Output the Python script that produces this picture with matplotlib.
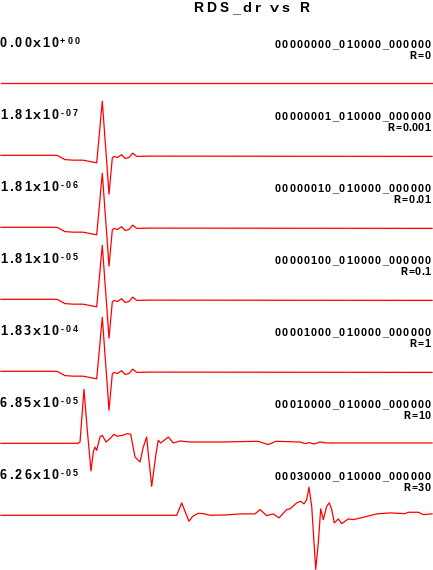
import matplotlib
matplotlib.use("Agg")
import matplotlib.pyplot as plt
from matplotlib.font_manager import FontProperties, findfont, get_font

W, H, DPI = 433, 570, 100

# ---------------- data ----------------
r_labels = ["R=0", "R=0.001", "R=0.01", "R=0.1", "R=1", "R=10", "R=30"]
run_ids = [
    "00000000_010000_000000",
    "00000001_010000_000000",
    "00000010_010000_000000",
    "00000100_010000_000000",
    "00001000_010000_000000",
    "00010000_010000_000000",
    "00030000_010000_000000",
]
peak_amp = [0.0, 1.81e-07, 1.81e-06, 1.81e-05, 1.83e-04, 6.85e-05, 6.26e-05]

# waveforms normalised by their peak |amplitude|, sample position 0..433
t_flat = [1, 432]
w_flat = [0.0, 0.0]

t_low_r = [1, 57, 65, 73, 83, 96.7, 102.3, 109.0, 112.3, 114, 117.3, 121.7, 125, 129,
           132.7, 136.7, 150, 432]
w_low_r = [0.0, 0.0, -0.08, -0.09, -0.09, -0.14, 1.0, -0.72, -0.05, -0.02, -0.04, 0.01,
           -0.06, -0.04, 0.04, -0.02, -0.015, -0.02]

t_r10 = [1, 78.3, 80, 84, 87.3, 91, 93.3, 95, 96.7, 100, 102.3, 106, 110, 114, 117.3,
         122.7, 127.3, 130.7, 135, 140, 143.3, 146.7, 148.3, 151.7, 156, 158.3, 160.7,
         168.3, 173.3, 180, 190, 220, 258, 268.3, 276, 300, 305, 309.3, 314, 320,
         326.7, 432]
w_r10 = [0.0, 0.0, 0.024, 1.0, 0.24, -0.513, -0.161, -0.069, -0.13, 0.117, 0.148, 0.024,
         0.087, 0.167, 0.13, 0.148, 0.18, 0.167, -0.254, -0.346, -0.069, 0.117, -0.191,
         -0.796, -0.191, 0.056, 0.006, 0.117, 0.006, 0.043, 0.024, 0.024, 0.037, -0.024,
         0.037, 0.024, -0.006, 0.013, -0.013, 0.024, 0.006, 0.006]

t_r30 = [1, 176.7, 181.7, 185, 189, 192.7, 198.3, 203.3, 210, 226.7, 240, 255, 260,
         266.7, 273.3, 279, 286.7, 290, 296.7, 300.7, 304, 306.7, 309, 311.7, 315.7,
         318.3, 320.7, 323.3, 326.7, 329.3, 331.7, 334.3, 338.3, 341.7, 345, 348.3,
         353.3, 363.3, 376.7, 390, 405, 408.3, 418.3, 423.3, 432]
w_r30 = [0.0, 0.0, 0.23, 0.074, -0.111, -0.019, 0.037, 0.031, 0.0, 0.007, 0.026, 0.026,
         0.106, -0.006, 0.026, -0.048, 0.106, 0.119, 0.23, 0.259, 0.211, 0.291, 0.519,
         0.167, -1.0, -0.511, 0.119, -0.08, 0.167, 0.23, 0.106, -0.141, -0.067, -0.154,
         -0.111, -0.067, -0.08, -0.037, 0.026, 0.044, 0.031, 0.056, 0.056, 0.013, 0.026]

traces = [(t_flat, w_flat), (t_low_r, w_low_r), (t_low_r, w_low_r), (t_low_r, w_low_r),
          (t_low_r, w_low_r), (t_r10, w_r10), (t_r30, w_r30)]

# ---------------- layout (pixels from top) ----------------
TOP = 83.3    # baseline of the first trace
STEP = 72.0   # trace spacing
GAIN = 54.0   # pixels for a normalised value of 1
FONT = "Liberation Sans"

plt.rcParams["text.hinting"] = "native"
plt.rcParams["text.hinting_factor"] = 1


def tracked_text(fig, x, y, s, size, track, ha="left"):
    """Draw bold text with extra letter spacing; x, y in pixels from top-left."""
    prop = FontProperties(family=FONT, weight="bold", size=size)
    font = get_font(findfont(prop))
    font.set_size(size, DPI)
    adv = [font.load_char(ord(ch)).linearHoriAdvance / 65536 for ch in s]
    total = sum(adv) + track * (len(s) - 1)
    x0 = {"left": x, "right": x - total, "center": x - total / 2}[ha]
    for ch, a in zip(s, adv):
        fig.text(x0 / W, 1 - y / H, ch, fontproperties=prop, ha="left", va="baseline")
        x0 += a + track
    return x0


fig = plt.figure(figsize=(W / DPI, H / DPI), dpi=DPI)
ax = fig.add_axes([0, 0, 1, 1])
ax.set_xlim(0, W)
ax.set_ylim(-(H - TOP) / GAIN, TOP / GAIN)
ax.axis("off")

for k, (t, w) in enumerate(traces):
    offset = -k * STEP / GAIN
    ax.plot(t, [v + offset for v in w], color="#ff0000", lw=0.9)

    base = TOP + k * STEP
    mant, expo = f"{peak_amp[k]:.2e}".split("e")
    xe = tracked_text(fig, 0.0, base - 36.0, mant + "x10", 9.6, 2.0)
    tracked_text(fig, xe - 0.8, base - 39.5, expo, 6.6, 2.2)

    tracked_text(fig, 430.5, base - 35.6, run_ids[k], 7.7, 1.0, ha="right")
    tracked_text(fig, 430.5, base - 24.0, r_labels[k], 7.7, 0.2, ha="right")

tracked_text(fig, 251, 12.3, "RDS_dr vs R", 10.0, 3.2, ha="center")

fig.savefig("out.png", dpi=DPI)
